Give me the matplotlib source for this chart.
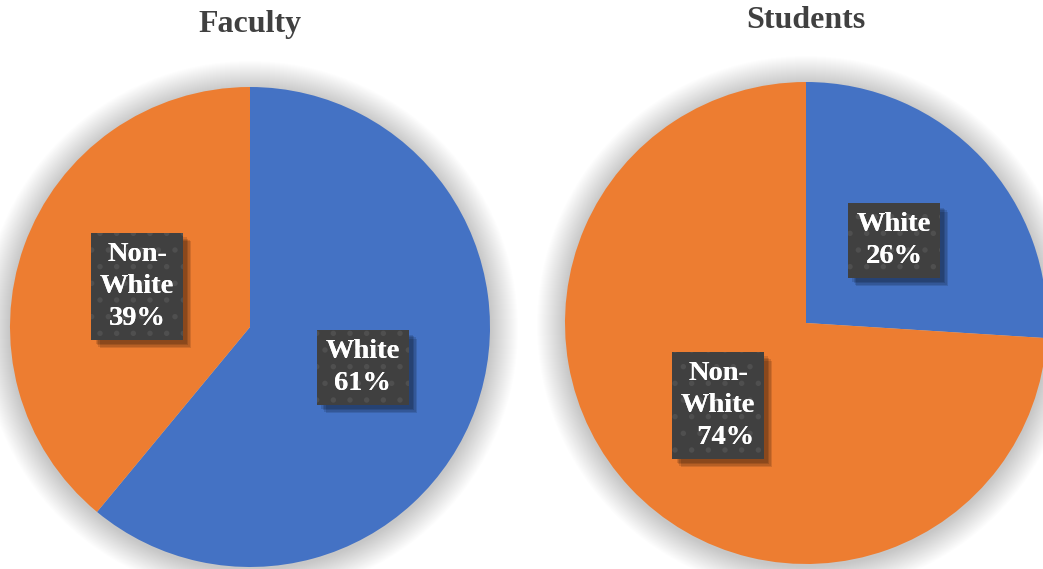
import numpy as np
import matplotlib.pyplot as plt
from matplotlib.patches import Circle
import matplotlib.patheffects as pe

plt.rcParams['font.family'] = ['Liberation Serif', 'DejaVu Serif']
plt.rcParams['hatch.linewidth'] = 1.5

# share of each group, in percent
categories = ['White', 'Non-White']
faculty = [61, 39]
students = [26, 74]
faculty_labels = ['White\n61%', 'Non-\nWhite\n39%']
student_labels = ['White\n26%', 'Non-\nWhite\n  74%']

BLUE = '#4472C4'
ORANGE = '#ED7D31'
W, H = 1043, 569


def draw_pie(ax, values, labels, title, cx, cy, r, title_y):
    # soft glow under the pie
    for k in range(28, 0, -1):
        ax.add_patch(Circle((cx, cy - 2), r + k, color='black', alpha=0.006,
                            lw=0, zorder=0))
    ax.pie(values, colors=[BLUE, ORANGE], startangle=90, counterclock=False,
           center=(cx, cy), radius=r, frame=False,
           wedgeprops=dict(linewidth=0, zorder=1))

    fr = np.array(values) / sum(values)
    mids = 90 - 360 * (np.cumsum(fr) - fr / 2)
    style = dict(ha='center', va='center', ma='center', fontsize=20.5,
                 fontweight='bold', color='white', linespacing=1.38)
    for lab, a in zip(labels, mids):
        x = cx + 0.5 * r * np.cos(np.radians(a))
        y = cy + 0.5 * r * np.sin(np.radians(a))
        # plain box with a blurred drop shadow
        t = ax.text(x, y, lab, zorder=5, **style,
                    bbox=dict(boxstyle='square,pad=0.3', facecolor='#404040',
                              linewidth=0))
        shadows = [pe.SimplePatchShadow(offset=(3 + d, -3 - d),
                                        shadow_rgbFace='black', alpha=0.12)
                   for d in (0, 1, 2, 3)]
        t.get_bbox_patch().set_path_effects(shadows + [pe.Normal()])
        # dotted texture on top of the box
        ax.text(x, y, lab, zorder=6, **style,
                bbox=dict(boxstyle='square,pad=0.3', facecolor='none',
                          edgecolor='#4f4f4f', linewidth=0, hatch='.'))

    ax.text(cx, title_y, title, ha='center', va='center', fontsize=23,
            fontweight='bold', color='#404040')


fig = plt.figure(figsize=(W / 100, H / 100), dpi=100)
ax = fig.add_axes([0, 0, 1, 1])

draw_pie(ax, faculty, faculty_labels, 'Faculty', 250, H - 327, 240, H - 24)
draw_pie(ax, students, student_labels, 'Students', 806, H - 323, 241, H - 20)

ax.set_xlim(0, W)
ax.set_ylim(0, H)
ax.set_aspect('auto')
ax.axis('off')

fig.savefig('out.png', dpi=100, facecolor='white')
